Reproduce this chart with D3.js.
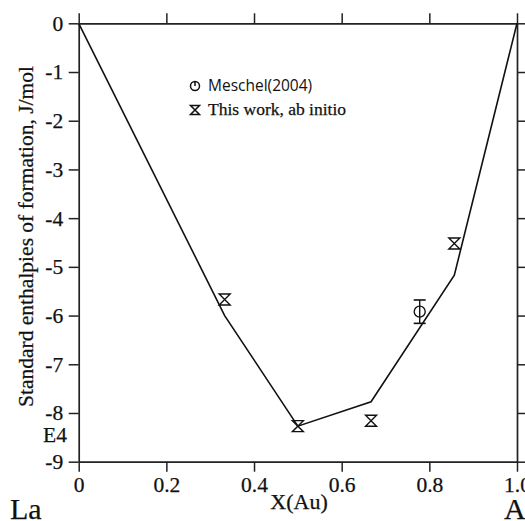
<!DOCTYPE html>
<html>
<head>
<meta charset="utf-8">
<script src="https://cdn.jsdelivr.net/npm/d3@7"></script>
<style>
  body { margin: 0; background: #fff; }
  svg { display: block; }
  .serif { font-family: "Liberation Serif", "Times New Roman", serif; stroke: #111; stroke-width: 0.25px; }
</style>
</head>
<body>
<svg id="chart" width="525" height="521"></svg>
<script>
// data
const lineX = [0, 0.333, 0.5, 0.667, 0.857, 1];
const lineY = [0, -6.0, -8.27, -7.77, -5.17, 0];
const workX = [0.333, 0.5, 0.667, 0.857];
const workY = [-5.67, -8.27, -8.16, -4.52];
const meschelX = [0.778];
const meschelY = [-5.92];
const meschelErr = [0.24];
const xTicks = [0, 0.2, 0.4, 0.6, 0.8, 1.0];
const xTickLabels = ["0", "0.2", "0.4", "0.6", "0.8", "1.0"];
const yTicks = [0, -1, -2, -3, -4, -5, -6, -7, -8, -9];
const yTickLabels = ["0", "-1", "-2", "-3", "-4", "-5", "-6", "-7", "-8", "-9"];

const svg = d3.select("#chart");
const plotL = 78.7, plotR = 517, plotT = 23.3, plotB = 461.7;

const x = d3.scaleLinear().domain([0, 1]).range([plotL, plotR]);
const y = d3.scaleLinear().domain([-9, 0]).range([plotB, plotT]);

const axisColor = "#222";
const tickFont = "21.5px";

function styleAxis(g) {
  g.select(".domain").attr("stroke", axisColor).attr("stroke-width", 1.7);
  g.selectAll(".tick line").attr("stroke", axisColor).attr("stroke-width", 1.5);
  g.selectAll(".tick text")
    .attr("fill", "#111")
    .attr("class", "serif")
    .style("font-size", tickFont);
}

// bottom axis with labels
svg.append("g")
  .attr("transform", `translate(0,${plotB})`)
  .call(d3.axisBottom(x).tickValues(xTicks).tickSize(10).tickPadding(5).tickSizeOuter(0)
    .tickFormat((d, i) => xTickLabels[i]))
  .call(styleAxis);

// top axis, ticks only
svg.append("g")
  .attr("transform", `translate(0,${plotT})`)
  .call(d3.axisTop(x).tickValues(xTicks).tickSize(10).tickSizeOuter(0).tickFormat(""))
  .call(styleAxis);

// left axis with labels
svg.append("g")
  .attr("transform", `translate(${plotL},0)`)
  .call(d3.axisLeft(y).tickValues(yTicks).tickSize(10).tickPadding(5.5).tickSizeOuter(0)
    .tickFormat((d, i) => yTickLabels[i]))
  .call(styleAxis);

// right axis, ticks only
svg.append("g")
  .attr("transform", `translate(${plotR},0)`)
  .call(d3.axisRight(y).tickValues(yTicks).tickSize(10).tickSizeOuter(0).tickFormat(""))
  .call(styleAxis);

// calculated line
const line = d3.line()
  .x((d) => x(d[0]))
  .y((d) => y(d[1]));

svg.append("path")
  .datum(lineX.map((v, i) => [v, lineY[i]]))
  .attr("fill", "none")
  .attr("stroke", "#111")
  .attr("stroke-width", 1.6)
  .attr("d", line);

// hourglass symbol
const hourglass = "M-5.5,-5.5H5.5L-5.5,5.5H5.5Z";

svg.selectAll(".work")
  .data(workX.map((v, i) => [v, workY[i]]))
  .join("path")
  .attr("class", "work")
  .attr("transform", (d) => `translate(${x(d[0])},${y(d[1])})`)
  .attr("d", hourglass)
  .attr("fill", "none")
  .attr("stroke", "#111")
  .attr("stroke-width", 1.4);

// Meschel point with error bar
const mes = svg.selectAll(".mes")
  .data(meschelX.map((v, i) => [v, meschelY[i], meschelErr[i]]))
  .join("g")
  .attr("class", "mes");

mes.append("line")
  .attr("x1", (d) => x(d[0])).attr("x2", (d) => x(d[0]))
  .attr("y1", (d) => y(d[1] + d[2])).attr("y2", (d) => y(d[1] - d[2]))
  .attr("stroke", "#111").attr("stroke-width", 1.4);
mes.append("line")
  .attr("x1", (d) => x(d[0]) - 6).attr("x2", (d) => x(d[0]) + 6)
  .attr("y1", (d) => y(d[1] + d[2])).attr("y2", (d) => y(d[1] + d[2]))
  .attr("stroke", "#111").attr("stroke-width", 1.6);
mes.append("line")
  .attr("x1", (d) => x(d[0]) - 6).attr("x2", (d) => x(d[0]) + 6)
  .attr("y1", (d) => y(d[1] - d[2])).attr("y2", (d) => y(d[1] - d[2]))
  .attr("stroke", "#111").attr("stroke-width", 1.6);
mes.append("circle")
  .attr("cx", (d) => x(d[0])).attr("cy", (d) => y(d[1]))
  .attr("r", 5.5)
  .attr("fill", "none")
  .attr("stroke", "#111").attr("stroke-width", 1.4);

// legend
const leg = svg.append("g");
leg.append("circle").attr("cx", 195).attr("cy", 86).attr("r", 4.5)
  .attr("fill", "none").attr("stroke", "#111").attr("stroke-width", 1.5);
leg.append("line").attr("x1", 195).attr("x2", 195).attr("y1", 81.5).attr("y2", 86)
  .attr("stroke", "#111").attr("stroke-width", 1.5);
leg.append("text").attr("x", 208).attr("y", 91)
  .style("font-family", "'Open Sans', 'Liberation Sans', sans-serif")
  .style("font-size", "15.5px").attr("fill", "#111")
  .text("Meschel(2004)");
leg.append("path").attr("transform", "translate(195,110)")
  .attr("d", "M-4.5,-4.5H4.5L-4.5,4.5H4.5Z")
  .attr("fill", "none").attr("stroke", "#111").attr("stroke-width", 1.5);
leg.append("text").attr("class", "serif").attr("x", 208).attr("y", 115)
  .style("font-size", "17.5px").attr("fill", "#111")
  .text("This work, ab initio");

// axis titles and labels
svg.append("text").attr("class", "serif")
  .attr("transform", "translate(33,236.5) rotate(-90)")
  .attr("text-anchor", "middle")
  .style("font-size", "21.5px").attr("fill", "#111")
  .text("Standard enthalpies of formation, J/mol");

svg.append("text").attr("class", "serif")
  .attr("x", 43).attr("y", 442)
  .style("font-size", "21.5px").attr("fill", "#111")
  .text("E4");

svg.append("text").attr("class", "serif")
  .attr("x", 299).attr("y", 509).attr("text-anchor", "middle")
  .style("font-size", "22px").attr("fill", "#111")
  .text("X(Au)");

svg.append("text").attr("class", "serif")
  .attr("x", 10).attr("y", 519)
  .style("font-size", "30px").attr("fill", "#111")
  .text("La");

svg.append("text").attr("class", "serif")
  .attr("x", 504).attr("y", 519)
  .style("font-size", "30px").attr("fill", "#111")
  .text("Au");
</script>
</body>
</html>
